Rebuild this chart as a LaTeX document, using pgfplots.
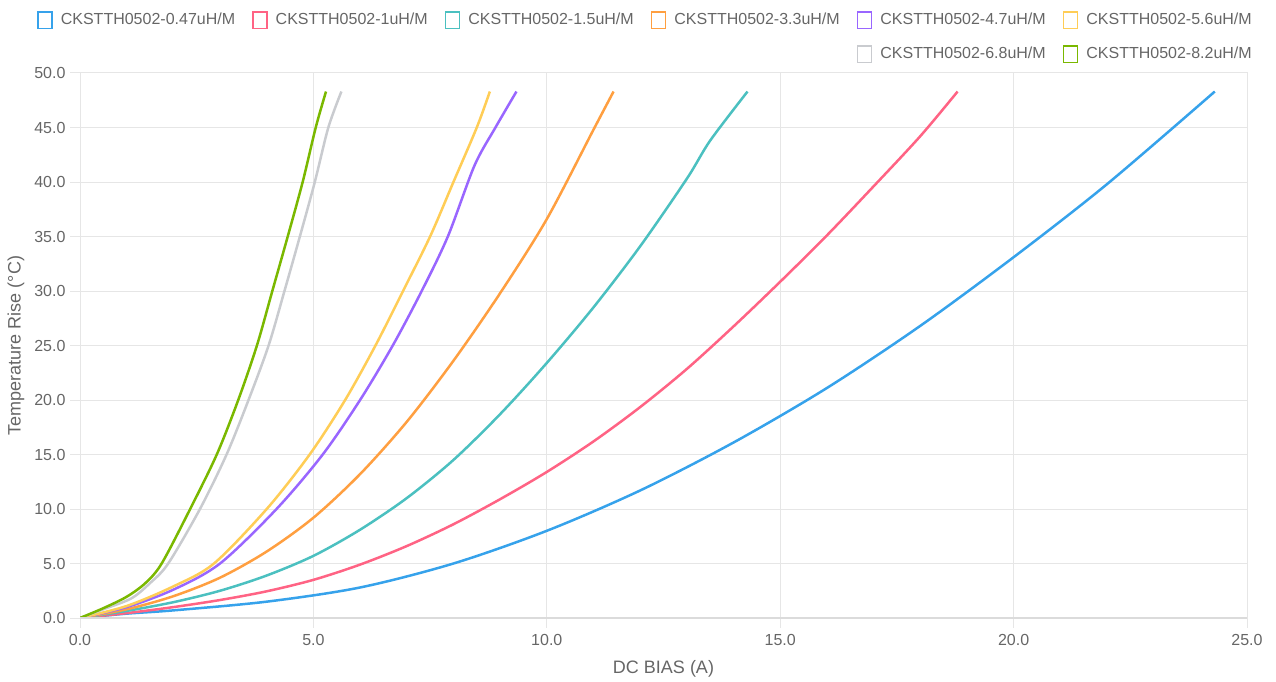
\documentclass[border=0pt]{standalone}
\usepackage{fontspec}
\setmainfont{Liberation Sans}
\usepackage{pgfplots}
\pgfplotsset{compat=1.18}
\definecolor{c1}{RGB}{54,162,235}
\definecolor{c2}{RGB}{255,99,132}
\definecolor{c3}{RGB}{75,192,192}
\definecolor{c4}{RGB}{255,159,64}
\definecolor{c5}{RGB}{153,102,255}
\definecolor{c6}{RGB}{255,205,86}
\definecolor{c7}{RGB}{201,203,207}
\definecolor{c8}{RGB}{122,184,0}
\definecolor{txt}{HTML}{666666}
\definecolor{gridc}{HTML}{E6E6E6}
\begin{document}
\begin{tikzpicture}
\path[use as bounding box] (0,0) rectangle (1276pt,681pt);
\begin{axis}[
  at={(80pt,63pt)}, anchor=south west,
  scale only axis, width=1167pt, height=545pt,
  xmin=0, xmax=25, ymin=0, ymax=50,
  xtick={0,5,...,25}, ytick={0,5,...,50},
  grid=major, major grid style={gridc, line width=1pt},
  axis line style={gridc, line width=1pt},
  tick style={gridc, line width=1pt},
  tick align=outside, major tick length=10pt, tick pos=left,
  /pgf/number format/.cd, fixed, fixed zerofill, precision=1, assume math mode=true,
  /pgfplots/.cd,
  ticklabel style={font=\fontsize{16}{18}\selectfont, text=txt},
  xticklabel style={yshift=-3pt},
  yticklabel style={xshift=-1pt},
  xlabel={DC BIAS (A)},
  ylabel={Temperature Rise (°C)},
  xlabel style={font=\fontsize{18}{20}\selectfont, text=txt, at={(axis description cs:0.5,0)}, anchor=base, yshift=-55pt},
  ylabel style={font=\fontsize{18}{20}\selectfont, text=txt, at={(axis description cs:-0.0548,0.5)}, anchor=center},
  legend columns=6, legend cell align=left,
  legend image code/.code={\draw[#1, line width=1.6pt, fill=white] (0.5pt,-8pt) rectangle (14.5pt,8.5pt);},
  legend style={at={(axis description cs:-0.0368,1.1138)}, anchor=north west, draw=none, fill=none,
    font=\fontsize{16}{18}\selectfont, text=txt, inner sep=0pt, column sep=0pt, row sep=16pt,
    /tikz/every odd column/.append style={column sep=8pt},
    /tikz/every even column/.append style={column sep=17pt},
    nodes={inner sep=0pt, text height=12pt, text depth=3.5pt}},
  every axis plot/.append style={line width=2.5pt, smooth, no markers},
]
\addplot[c1] coordinates {(0,0) (1,0.4) (2,0.7) (4,1.5) (6,2.8) (8,5.0) (10,8.0) (12,11.7) (14,16.1) (16,21.1) (18,26.8) (20,33.1) (22,39.8) (24.31,48.3)};
\addlegendentry{CKSTTH0502-0.47uH/M}
\addplot[c2] coordinates {(0,0) (1,0.45) (2,1.0) (3,1.65) (4,2.45) (5,3.5) (6,4.9) (7,6.6) (8,8.6) (9,10.9) (10,13.4) (11,16.2) (12,19.35) (13,22.85) (14,26.75) (15,30.85) (16,35.1) (17,39.6) (18,44.2) (18.8,48.3)};
\addlegendentry{CKSTTH0502-1uH/M}
\addplot[c3] coordinates {(0,0) (1,0.65) (2,1.45) (3,2.5) (4,3.9) (5,5.7) (6,8.1) (7,11.0) (8,14.5) (9,18.7) (10,23.4) (11,28.5) (12,34.1) (13,40.3) (13.5,43.8) (14.3,48.3)};
\addlegendentry{CKSTTH0502-1.5uH/M}
\addplot[c4] coordinates {(0,0) (1,0.8) (2,2.0) (3,3.7) (4,6.1) (5,9.2) (6,13.2) (7,18.0) (8,23.6) (9,29.8) (10,36.6) (11,44.8) (11.43,48.3)};
\addlegendentry{CKSTTH0502-3.3uH/M}
\addplot[c5] coordinates {(0,0) (1,1.0) (2,2.6) (3,5.0) (4.21,10) (5.2,15) (6.0,20) (6.7,25) (7.32,30) (7.88,35) (8.45,41.5) (8.9,45) (9.35,48.3)};
\addlegendentry{CKSTTH0502-4.7uH/M}
\addplot[c6] coordinates {(0,0) (1,1.1) (2,2.9) (2.87,5) (4.0,10) (4.92,15) (5.68,20) (6.33,25) (6.92,30) (7.5,35) (8.0,40) (8.5,45) (8.78,48.3)};
\addlegendentry{CKSTTH0502-5.6uH/M}
\addlegendimage{empty legend}\addlegendentry{}
\addlegendimage{empty legend}\addlegendentry{}
\addlegendimage{empty legend}\addlegendentry{}
\addlegendimage{empty legend}\addlegendentry{}
\addplot[c7] coordinates {(0,0) (0.5,0.8) (1.1,1.8) (1.5,3.2) (1.89,5) (2.57,10) (3.14,15) (3.61,20) (4.04,25) (4.38,30) (4.71,35) (5.03,40) (5.32,45) (5.6,48.3)};
\addlegendentry{CKSTTH0502-6.8uH/M}
\addplot[c8] coordinates {(0,0) (0.5,0.9) (1.0,1.95) (1.4,3.2) (1.75,5) (2.36,10) (2.93,15) (3.39,20) (3.79,25) (4.12,30) (4.45,35) (4.77,40) (5.05,45) (5.27,48.3)};
\addlegendentry{CKSTTH0502-8.2uH/M}
\draw[gridc!85!black!60, line width=2pt] (axis cs:0,0) -- (axis cs:25,0);
\end{axis}
\end{tikzpicture}
\end{document}
